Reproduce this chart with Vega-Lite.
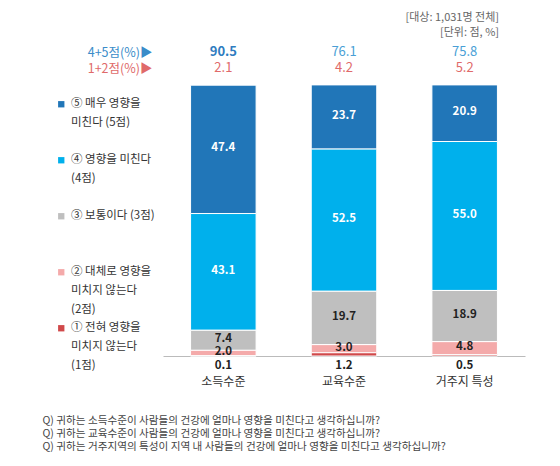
{
  "$schema": "https://vega.github.io/schema/vega-lite/v6.json",
  "autosize": "none",
  "width": 362,
  "height": 325,
  "padding": {"left": 163, "top": 31, "right": 35, "bottom": 110},
  "background": "white",
  "title": {
    "text": ["[대상: 1,031명 전체]", "[단위: 점, %]"],
    "anchor": "end",
    "frame": "group",
    "align": "right",
    "fontSize": 11,
    "fontWeight": "normal",
    "color": "#666666",
    "lineHeight": 15,
    "offset": -7,
    "dx": -26,
    "font": "Noto Sans CJK KR"
  },
  "datasets": {
    "shares": [
      {"cat": "소득수준", "score": 5, "pct": 47.4},
      {"cat": "소득수준", "score": 4, "pct": 43.1},
      {"cat": "소득수준", "score": 3, "pct": 7.4},
      {"cat": "소득수준", "score": 2, "pct": 2.0},
      {"cat": "소득수준", "score": 1, "pct": 0.1},
      {"cat": "교육수준", "score": 5, "pct": 23.7},
      {"cat": "교육수준", "score": 4, "pct": 52.5},
      {"cat": "교육수준", "score": 3, "pct": 19.7},
      {"cat": "교육수준", "score": 2, "pct": 3.0},
      {"cat": "교육수준", "score": 1, "pct": 1.2},
      {"cat": "거주지 특성", "score": 5, "pct": 20.9},
      {"cat": "거주지 특성", "score": 4, "pct": 55.0},
      {"cat": "거주지 특성", "score": 3, "pct": 18.9},
      {"cat": "거주지 특성", "score": 2, "pct": 4.8},
      {"cat": "거주지 특성", "score": 1, "pct": 0.5}
    ],
    "summary": [
      {"cat": "소득수준", "top": 90.5, "bottom": 2.1},
      {"cat": "교육수준", "top": 76.1, "bottom": 4.2},
      {"cat": "거주지 특성", "top": 75.8, "bottom": 5.2}
    ]
  },
  "layer": [
    {
      "data": {"name": "shares"},
      "mark": {"type": "bar", "stroke": "white", "strokeWidth": 1},
      "encoding": {
        "x": {
          "field": "cat",
          "type": "nominal",
          "sort": ["소득수준", "교육수준", "거주지 특성"],
          "scale": {"paddingInner": 0.457, "paddingOuter": 0.2285},
          "axis": {
            "title": [
              "Q) 귀하는 소득수준이 사람들의 건강에 얼마나 영향을 미친다고 생각하십니까?",
              "Q) 귀하는 교육수준이 사람들의 건강에 얼마나 영향을 미친다고 생각하십니까?",
              "Q) 귀하는 거주지역의 특성이 지역 내 사람들의 건강에 얼마나 영향을 미친다고 생각하십니까?"
            ],
            "labelAngle": 0,
            "labelFontSize": 12,
            "labelColor": "#333333",
            "labelPadding": 20,
            "ticks": false,
            "tickSize": 0,
            "domainColor": "#bbbbbb",
            "titleX": -121,
            "titleY": 59,
            "titleAnchor": "start",
            "titleAlign": "left",
            "titleBaseline": "top",
            "titleFontSize": 10.6,
            "titleFontWeight": "normal",
            "titleColor": "#444444",
            "titleLineHeight": 13.3
          }
        },
        "y": {
          "field": "pct",
          "type": "quantitative",
          "stack": "zero",
          "scale": {"domain": [0, 120], "nice": false},
          "axis": {
            "values": [112.2, 106.2],
            "title": null,
            "grid": false,
            "domain": false,
            "ticks": false,
            "tickSize": 0,
            "labelExpr": "datum.value > 110 ? '4+5점(%)▶' : '1+2점(%)▶'",
            "labelColor": {"condition": {"test": "datum.value > 110", "value": "#3a8cc9"}, "value": "#e06a6a"},
            "labelFontSize": 12.5,
            "labelPadding": 11,
            "labelBaseline": "middle"
          }
        },
        "color": {
          "field": "score",
          "type": "nominal",
          "scale": {"domain": [5, 4, 3, 2, 1], "range": ["#2176b8", "#00b0ec", "#bfbfbf", "#f4aaaa", "#d0494a"]},
          "legend": {
            "title": null,
            "orient": "none",
            "legendX": -107.5,
            "legendY": 67.5,
            "padding": 0,
            "symbolType": "square",
            "symbolSize": 40,
            "symbolStrokeWidth": 0,
            "labelOffset": 4,
            "labelFontSize": 11.5,
            "labelColor": "#333333",
            "labelLimit": 200,
            "rowPadding": 5.0,
            "labelBaseline": "middle",
            "labelExpr": "datum.value == 5 ? ['⑤ 매우 영향을', '미친다 (5점)', ''] : datum.value == 4 ? ['④ 영향을 미친다', '(4점)', ''] : datum.value == 3 ? ['③ 보통이다 (3점)', '', ''] : datum.value == 2 ? ['② 대체로 영향을', '미치지 않는다', '(2점)'] : ['① 전혀 영향을', '미치지 않는다', '(1점)']"
          }
        },
        "order": {"field": "score", "type": "quantitative", "sort": "ascending"}
      }
    },
    {
      "data": {"name": "shares"},
      "transform": [
        {"stack": "pct", "groupby": ["cat"], "sort": [{"field": "score", "order": "ascending"}], "as": ["lo", "hi"]},
        {"filter": "datum.score >= 2"},
        {"fold": ["lo", "hi"], "as": ["edge", "pos"]}
      ],
      "mark": {"type": "text", "fontWeight": "bold", "fontSize": 11.5, "dy": -1},
      "encoding": {
        "x": {"field": "cat", "type": "nominal", "sort": ["소득수준", "교육수준", "거주지 특성"]},
        "y": {"field": "pos", "type": "quantitative", "aggregate": "mean", "stack": null},
        "detail": {"field": "score", "type": "quantitative"},
        "text": {"field": "pct", "type": "quantitative", "format": ".1f"},
        "color": {"condition": {"test": "datum.score >= 4", "value": "white"}, "value": "#222222"}
      }
    },
    {
      "data": {"name": "shares"},
      "transform": [{"filter": "datum.score == 1"}],
      "mark": {"type": "text", "fontWeight": "bold", "fontSize": 11.5, "color": "#222222", "dy": 9.5, "baseline": "middle"},
      "encoding": {
        "x": {"field": "cat", "type": "nominal", "sort": ["소득수준", "교육수준", "거주지 특성"]},
        "y": {"datum": 0},
        "text": {"field": "pct", "type": "quantitative", "format": ".1f"}
      }
    },
    {
      "data": {"name": "summary"},
      "transform": [{"filter": "datum.cat == '소득수준'"}],
      "mark": {"type": "text", "fontWeight": "bold", "fontSize": 13, "color": "#2f7cc0", "baseline": "middle"},
      "encoding": {
        "x": {"field": "cat", "type": "nominal", "sort": ["소득수준", "교육수준", "거주지 특성"]},
        "y": {"datum": 112.2},
        "text": {"field": "top", "type": "quantitative", "format": ".1f"}
      }
    },
    {
      "data": {"name": "summary"},
      "transform": [{"filter": "datum.cat != '소득수준'"}],
      "mark": {"type": "text", "fontWeight": "normal", "fontSize": 13, "color": "#4a9fd6", "baseline": "middle"},
      "encoding": {
        "x": {"field": "cat", "type": "nominal", "sort": ["소득수준", "교육수준", "거주지 특성"]},
        "y": {"datum": 112.2},
        "text": {"field": "top", "type": "quantitative", "format": ".1f"}
      }
    },
    {
      "data": {"name": "summary"},
      "mark": {"type": "text", "fontWeight": "normal", "fontSize": 13, "color": "#e06a6a", "baseline": "middle"},
      "encoding": {
        "x": {"field": "cat", "type": "nominal", "sort": ["소득수준", "교육수준", "거주지 특성"]},
        "y": {"datum": 106.2},
        "text": {"field": "bottom", "type": "quantitative", "format": ".1f"}
      }
    }
  ],
  "config": {
    "font": "Noto Sans CJK KR",
    "view": {"stroke": null},
    "axis": {"grid": false, "labelFont": "Noto Sans CJK KR", "titleFont": "Noto Sans CJK KR"},
    "legend": {"labelFont": "Noto Sans CJK KR"},
    "text": {"font": "Noto Sans CJK KR"},
    "style": {"guide-label": {"lineHeight": 19}}
  }
}
